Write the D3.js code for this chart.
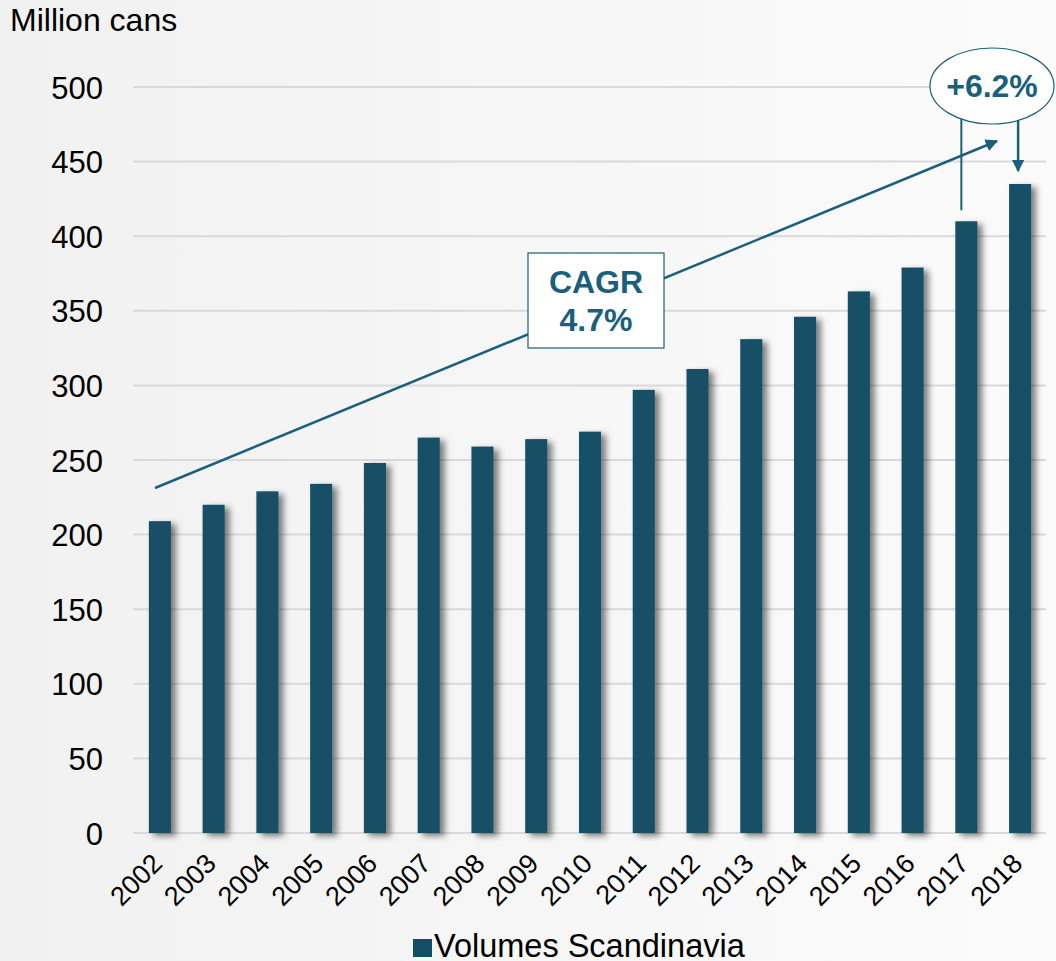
<!DOCTYPE html>
<html>
<head>
<meta charset="utf-8">
<script src="https://cdn.jsdelivr.net/npm/d3@7"></script>
<style>
  html, body { margin: 0; padding: 0; background: #f4f4f4; }
  svg { display: block; font-family: Arial, "Liberation Sans", sans-serif; }
</style>
</head>
<body>
<svg id="chart" width="1056" height="961"></svg>
<script>
// Annual volumes, million cans
const years = ["2002","2003","2004","2005","2006","2007","2008","2009","2010",
               "2011","2012","2013","2014","2015","2016","2017","2018"];
const volumes = [209, 220, 229, 234, 248, 265, 259, 264, 269,
                 297, 311, 331, 346, 363, 379, 410, 435];
const yTicks = [0, 50, 100, 150, 200, 250, 300, 350, 400, 450, 500];
const seriesName = "Volumes Scandinavia";
const unitLabel = "Million cans";
const cagrLabel = ["CAGR", "4.7%"];
const lastGrowthLabel = "+6.2%";

const teal = "#1a607c";
const barColor = "#124f66";
const FONT = "Arial, 'Liberation Sans', sans-serif";

const svg = d3.select("#chart");
const W = 1056, H = 961;

const defs = svg.append("defs");
const bg = defs.append("linearGradient").attr("id", "bg").attr("x1", "0").attr("x2", "1").attr("y1", "0").attr("y2", "0");
bg.append("stop").attr("offset", "0").attr("stop-color", "#f1f1f1");
bg.append("stop").attr("offset", "1").attr("stop-color", "#fbfbfb");

const shadow = defs.append("filter").attr("id", "shadow")
  .attr("x", "-30%").attr("y", "-10%").attr("width", "200%").attr("height", "130%");
shadow.append("feDropShadow").attr("dx", 5).attr("dy", 3).attr("stdDeviation", 3)
  .attr("flood-color", "#000").attr("flood-opacity", 0.5);

defs.append("marker").attr("id", "arrow")
  .attr("viewBox", "0 0 10 10").attr("refX", 9).attr("refY", 5)
  .attr("markerWidth", 5).attr("markerHeight", 5).attr("orient", "auto")
  .attr("markerUnits", "strokeWidth")
  .append("path").attr("d", "M0,0 L10,5 L0,10 z").attr("fill", teal);

svg.append("rect").attr("width", W).attr("height", H).attr("fill", "url(#bg)");

const plot = { left: 133, right: 1047, top: 87, bottom: 833 };

const x = d3.scaleBand().domain(years).range([plot.left, plot.right])
  .paddingInner(0.59).paddingOuter(0.295);
const y = d3.scaleLinear().domain([0, 500]).range([plot.bottom, plot.top]);

// gridlines
svg.append("g").selectAll("line").data(yTicks).join("line")
  .attr("x1", plot.left).attr("x2", plot.right - 1)
  .attr("y1", d => y(d)).attr("y2", d => y(d))
  .attr("stroke", "#d9d9d9").attr("stroke-width", 2);

// y axis labels
const yAxis = svg.append("g").attr("transform", `translate(${plot.left - 30},0)`)
  .call(d3.axisLeft(y).tickValues(yTicks).tickSize(0).tickPadding(0));
yAxis.select(".domain").remove();
yAxis.selectAll("text").attr("font-size", 31).attr("fill", "#000")
  .attr("font-family", FONT).attr("dy", "0.36em");

// x axis labels
const xAxis = svg.append("g").attr("transform", `translate(0,${plot.bottom})`)
  .call(d3.axisBottom(x).tickSize(0).tickPadding(0));
xAxis.select(".domain").remove();
xAxis.selectAll("text")
  .attr("font-size", 27).attr("fill", "#000")
  .attr("font-family", FONT)
  .attr("text-anchor", "end")
  .attr("y", 0).attr("dy", 0)
  .attr("transform", "translate(4,32) rotate(-45)");

// bars
svg.append("g").attr("filter", "url(#shadow)").selectAll("rect")
  .data(years.map((yr, i) => ({ yr, v: volumes[i] })))
  .join("rect")
  .attr("x", d => x(d.yr)).attr("width", x.bandwidth())
  .attr("y", d => y(d.v)).attr("height", d => y(0) - y(d.v))
  .attr("fill", barColor);

// unit label
svg.append("text").attr("x", 10).attr("y", 31).attr("font-size", 32).attr("fill", "#000")
  .text(unitLabel);

// CAGR trend arrow
svg.append("line").attr("x1", 155).attr("y1", 488).attr("x2", 997).attr("y2", 141)
  .attr("stroke", teal).attr("stroke-width", 2.5).attr("marker-end", "url(#arrow)");

// CAGR box
const box = svg.append("g");
box.append("rect").attr("x", 528).attr("y", 253).attr("width", 136).attr("height", 95)
  .attr("fill", "#fff").attr("stroke", teal).attr("stroke-width", 1.2);
box.append("text").attr("x", 596).attr("y", 293).attr("text-anchor", "middle")
  .attr("font-size", 32).attr("font-weight", "bold").attr("fill", teal).text(cagrLabel[0]);
box.append("text").attr("x", 596).attr("y", 331).attr("text-anchor", "middle")
  .attr("font-size", 32).attr("font-weight", "bold").attr("fill", teal).text(cagrLabel[1]);

// last year growth callout
const x17 = x("2017") + x.bandwidth() / 2 - 5;
const x18 = x("2018") + x.bandwidth() / 2 - 2;
svg.append("line").attr("x1", x17).attr("x2", x17).attr("y1", 119).attr("y2", y(volumes[15]) - 11)
  .attr("stroke", teal).attr("stroke-width", 2);
svg.append("line").attr("x1", x18).attr("x2", x18).attr("y1", 119).attr("y2", y(volumes[16]) - 13)
  .attr("stroke", teal).attr("stroke-width", 2.5).attr("marker-end", "url(#arrow)");
svg.append("ellipse").attr("cx", 992).attr("cy", 86).attr("rx", 62).attr("ry", 38)
  .attr("fill", "#fff").attr("stroke", teal).attr("stroke-width", 1.2);
svg.append("text").attr("x", 992).attr("y", 97).attr("text-anchor", "middle")
  .attr("font-size", 32).attr("font-weight", "bold").attr("fill", teal).text(lastGrowthLabel);

// legend
const lg = svg.append("g").attr("transform", "translate(413,939)");
lg.append("rect").attr("width", 19).attr("height", 18).attr("fill", barColor);
lg.append("text").attr("x", 21).attr("y", 18).attr("font-size", 32.5).attr("fill", "#000").text(seriesName);
</script>
</body>
</html>
